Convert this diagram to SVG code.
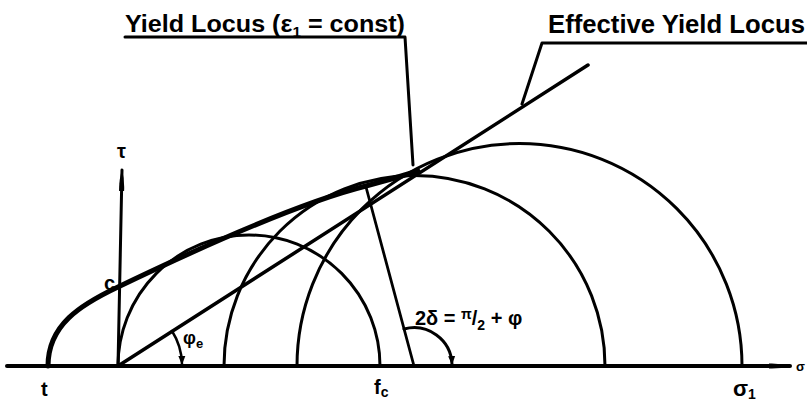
<svg xmlns="http://www.w3.org/2000/svg" width="807" height="402" viewBox="0 0 807 402">
<style>
.ln{fill:none;stroke:#000;stroke-linecap:round;stroke-linejoin:round}
.t{font-family:"Liberation Sans",Arial,sans-serif;font-weight:bold;fill:#000}
</style>
<defs>
<marker id="ax" viewBox="0 0 22 9" refX="21" refY="4.5" markerWidth="22" markerHeight="9" markerUnits="userSpaceOnUse" orient="auto"><path d="M0,2 Q10,1.5 22,4.5 Q10,7.5 0,7 z" fill="#000"/></marker>
<marker id="tip" viewBox="0 0 9 8" refX="8" refY="4" markerWidth="9" markerHeight="8" markerUnits="userSpaceOnUse" orient="auto"><path d="M0,0.5 L9,4 L0,7.5 z" fill="#000"/></marker>
</defs>
<rect width="807" height="402" fill="#fff"/>
<g id="axes">
<path class="ln" d="M7,366 L790,366" stroke-width="4" marker-end="url(#ax)"/>
<path class="ln" d="M118,366 L122,170" stroke-width="3" marker-end="url(#ax)"/>
</g>
<g id="circles">
<path class="ln" d="M118,366 A131,131 0 0 1 380,366" stroke-width="3"/>
<path class="ln" d="M224,366 A190.5,190.5 0 0 1 605,366" stroke-width="3"/>
<path class="ln" d="M297,366 A222.5,222.5 0 0 1 742,366" stroke-width="3"/>
</g>
<g id="yield-locus">
<path class="ln" d="M48,366 C48,325 80,305 118,287 C170,262 290,205 366,186 C385,181 402,176 418,171" stroke-width="5"/>
</g>
<g id="effective-yield-locus">
<path class="ln" d="M118,366 L588,65" stroke-width="3.5"/>
</g>
<g id="construction">
<path class="ln" d="M414,366 L366,187" stroke-width="2.8"/>
<path class="ln" d="M404,329 A38,38 0 0 1 452,364" stroke-width="3" marker-end="url(#tip)"/>
<path class="ln" d="M172,331 A64,64 0 0 1 182,364" stroke-width="2.5" marker-end="url(#tip)"/>
</g>
<g id="connectors">
<path class="ln" d="M125,37 L405,37 L413,165" stroke-width="3"/>
<path class="ln" d="M807,43 L542,43 L522,104" stroke-width="3"/>
</g>
<g id="labels">
<text class="t" x="125" y="32" font-size="23" textLength="280" lengthAdjust="spacingAndGlyphs">Yield Locus (ε<tspan font-size="14" dy="5">1</tspan><tspan dy="-5"> = const)</tspan></text>
<text class="t" x="548" y="33" font-size="25" textLength="257" lengthAdjust="spacingAndGlyphs">Effective Yield Locus</text>
<text class="t" x="117" y="158" font-size="20">τ</text>
<text class="t" x="104" y="290" font-size="20">c</text>
<text class="t" x="41" y="396" font-size="20">t</text>
<text class="t" x="374" y="394" font-size="20">f<tspan font-size="14" dy="3">c</tspan></text>
<text class="t" x="733" y="396" font-size="22">σ<tspan font-size="14" dy="3">1</tspan></text>
<text class="t" x="183" y="344" font-size="18">φ<tspan font-size="13" dy="4">e</tspan></text>
<text class="t" x="415" y="325" font-size="20">2δ = <tspan font-size="14" dy="-6">π</tspan><tspan dy="6">/</tspan><tspan font-size="14" dy="5">2</tspan><tspan dy="-5"> + φ</tspan></text>
<text class="t" x="796" y="371" font-size="13">σ</text>
</g>
</svg>
